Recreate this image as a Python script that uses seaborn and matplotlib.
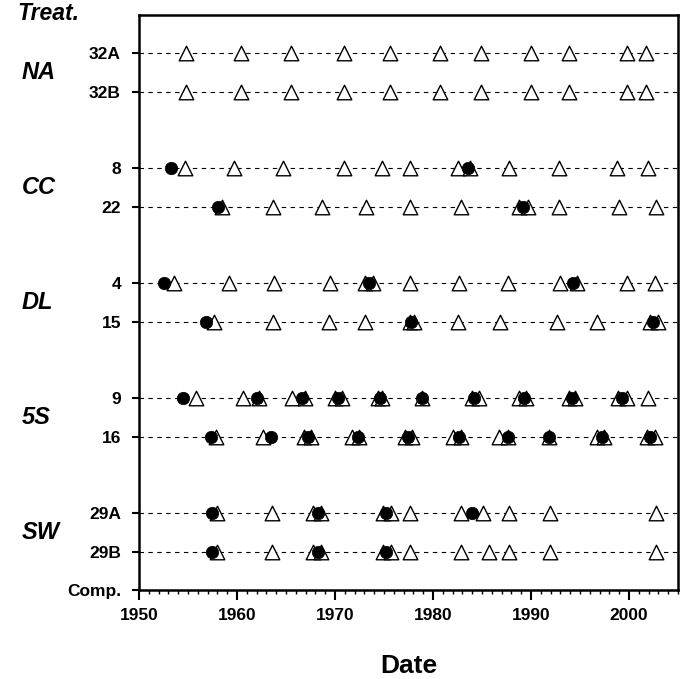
import matplotlib
matplotlib.use("Agg")
import matplotlib.pyplot as plt
from matplotlib.ticker import MultipleLocator
from matplotlib.transforms import blended_transform_factory
import seaborn as sns
import pandas as pd

# ---- data ----
plots = ["32A", "32B", "8", "22", "4", "15", "9", "16", "29A", "29B"]
plot_y = [14, 13, 11, 10, 8, 7, 5, 4, 2, 1]
groups = ["NA", "CC", "DL", "5S", "SW"]
group_y = [13.5, 10.5, 7.5, 4.5, 1.5]

tri_32A = [1954.8, 1960.4, 1965.5, 1970.9, 1975.6, 1980.7, 1984.9, 1990.0, 1993.9, 1999.8, 2001.7]
tri_32B = [1954.8, 1960.4, 1965.5, 1970.9, 1975.6, 1980.7, 1984.9, 1990.0, 1993.9, 1999.8, 2001.7]
tri_8 = [1954.7, 1959.7, 1964.7, 1970.9, 1974.8, 1977.7, 1982.6, 1983.8, 1987.8, 1992.9, 1998.8, 2001.9]
tri_22 = [1958.5, 1963.7, 1968.7, 1973.2, 1977.7, 1982.9, 1988.8, 1989.7, 1992.9, 1999.0, 2002.8]
tri_4 = [1953.6, 1959.2, 1963.8, 1969.5, 1973.1, 1973.9, 1977.7, 1982.7, 1987.7, 1993.0, 1994.7, 1999.8, 2002.7]
tri_15 = [1957.7, 1963.7, 1969.4, 1973.1, 1977.7, 1978.1, 1982.6, 1986.8, 1992.7, 1996.7, 2002.1, 2003.0]
tri_9 = [1955.8, 1960.6, 1962.2, 1965.6, 1966.9, 1970.0, 1970.7, 1974.4, 1974.8, 1978.9,
         1984.0, 1984.7, 1988.8, 1989.5, 1993.9, 1994.5, 1998.9, 1999.8, 2001.9]
tri_16 = [1957.9, 1962.7, 1966.8, 1967.6, 1971.7, 1972.5, 1977.1, 1977.9, 1982.0, 1982.9,
          1986.7, 1987.7, 1991.8, 1996.7, 1997.5, 2001.8, 2002.7]
tri_29A = [1958.0, 1963.6, 1967.8, 1968.6, 1974.9, 1975.7, 1977.7, 1982.9, 1985.1, 1987.8, 1991.9, 2002.8]
tri_29B = [1958.0, 1963.6, 1967.8, 1968.6, 1974.9, 1975.7, 1977.7, 1982.9, 1985.7, 1987.8, 1991.9, 2002.8]

dot_32A = []
dot_32B = []
dot_8 = [1953.3, 1983.6]
dot_22 = [1958.1, 1989.2]
dot_4 = [1952.6, 1973.5, 1994.3]
dot_15 = [1956.8, 1977.8, 2002.5]
dot_9 = [1954.5, 1962.0, 1966.6, 1970.3, 1974.6, 1978.9, 1984.2, 1989.3, 1994.2, 1999.3]
dot_16 = [1957.3, 1963.5, 1967.2, 1972.3, 1977.4, 1982.7, 1987.7, 1991.8, 1997.2, 2002.1]
dot_29A = [1957.4, 1968.3, 1975.2, 1984.0]
dot_29B = [1957.4, 1968.3, 1975.2]

tri_all = [tri_32A, tri_32B, tri_8, tri_22, tri_4, tri_15, tri_9, tri_16, tri_29A, tri_29B]
dot_all = [dot_32A, dot_32B, dot_8, dot_22, dot_4, dot_15, dot_9, dot_16, dot_29A, dot_29B]

tri_df = pd.DataFrame([(x, y) for xs, y in zip(tri_all, plot_y) for x in xs], columns=["Date", "row"])
dot_df = pd.DataFrame([(x, y) for xs, y in zip(dot_all, plot_y) for x in xs], columns=["Date", "row"])

# ---- figure ----
sns.set_style("ticks")
plt.rcParams["font.family"] = ["Liberation Sans", "DejaVu Sans"]
plt.rcParams["font.weight"] = "bold"
for k in ["text.color", "axes.labelcolor", "xtick.color", "ytick.color", "axes.edgecolor"]:
    plt.rcParams[k] = "black"

fig = plt.figure(figsize=(6.83, 6.79), dpi=100)
ax = fig.add_axes([139 / 683, 1 - 590 / 679, (678 - 139) / 683, (590 - 15) / 679])

for y in plot_y:
    ax.axhline(y, color="black", lw=0.8, ls=(0, (4, 4)), zorder=1)

sns.scatterplot(data=tri_df, x="Date", y="row", marker="^", s=110, facecolor="white",
                edgecolor="black", linewidth=1.0, ax=ax, zorder=3)
sns.scatterplot(data=dot_df, x="Date", y="row", marker="o", s=80, color="black",
                edgecolor="black", linewidth=0.5, ax=ax, zorder=4)

ax.set_xlim(1950, 2005)
ax.set_ylim(0, 15)
ax.xaxis.set_major_locator(MultipleLocator(10))
ax.xaxis.set_minor_locator(MultipleLocator(1))
ax.tick_params(axis="x", which="major", direction="out", length=7, width=1.5, pad=6, labelsize=12.5)
ax.tick_params(axis="x", which="minor", direction="out", length=3, width=1.0)
ax.set_yticks([0] + plot_y)
ax.set_yticklabels(["Comp."] + plots, fontsize=12.5, fontweight="bold")
ax.tick_params(axis="y", direction="out", length=5, width=1.5, pad=8)
for lab in ax.get_xticklabels():
    lab.set_fontweight("bold")

for s in ax.spines.values():
    s.set_linewidth(1.8)
    s.set_visible(True)

ax.set_xlabel("Date", fontsize=19, fontweight="bold", labelpad=22)
ax.set_ylabel("")

trans = blended_transform_factory(fig.transFigure, ax.transData)
for g, gy in zip(groups, group_y):
    ax.text(22 / 683, gy, g, transform=trans, ha="left", va="center",
            fontsize=17, fontweight="bold", fontstyle="italic")

fig.text(17 / 683, 1 - 13 / 679, "Treat.", ha="left", va="center", fontsize=16.5,
         fontweight="bold", fontstyle="italic")

fig.savefig("out.png", dpi=100)
